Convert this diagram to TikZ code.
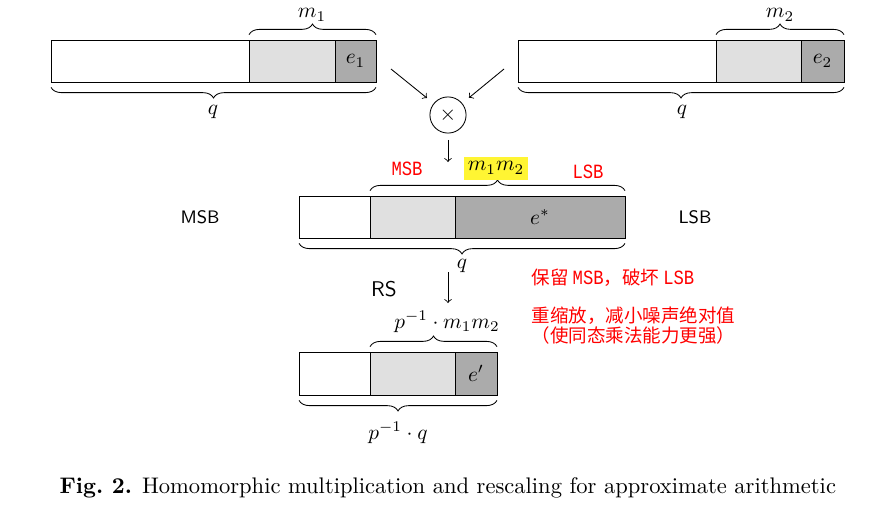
\documentclass[tikz,border=0pt]{standalone}
\usepackage{fontspec}
\newfontfamily\cjk{Noto Sans CJK SC}
\newfontfamily\redmono{Liberation Mono}[FakeStretch=0.85]
\usetikzlibrary{decorations.pathreplacing}
\tikzset{
  brc/.style={decorate,decoration={brace,amplitude=5pt,raise=2.5pt}},
  brcm/.style={decorate,decoration={brace,amplitude=5pt,raise=2.5pt,mirror}},
  lite/.style={fill=black!12},
  dark/.style={fill=black!33},
  note/.style={text=red,font=\cjk\fontsize{8.7}{10.5}\selectfont},
  side/.style={font=\sffamily\fontsize{8.5}{10}\selectfont},
}
\begin{document}
\begin{tikzpicture}
  [x=0.47pt,y=-0.47pt]
  \useasboundingbox (0,0) rectangle (888,514);

  % first ciphertext
  \draw (51,40) rectangle (249,82);
  \draw[lite] (249,40) rectangle (335,82);
  \draw[dark] (335,40) rectangle (376,82) node[midway] (e1) {$e_1$};
  \draw[brc] (249,40) -- (376,40);
  \node (m1) at (312,15) {$m_1$};
  \draw[brcm] (51,82) -- (376,82);
  \node (q1) at (213,112) {$q$};

  % second ciphertext
  \draw (518,40) rectangle (716,82);
  \draw[lite] (716,40) rectangle (801,82);
  \draw[dark] (801,40) rectangle (844,82) node[midway] (e2) {$e_2$};
  \draw[brc] (716,40) -- (844,40);
  \node (m2) at (780,15) {$m_2$};
  \draw[brcm] (518,82) -- (844,82);
  \node (q2) at (682,112) {$q$};

  % multiplication
  \node[circle,draw,minimum size=17pt,inner sep=0pt] (mul) at (448,115) {$\times$};
  \coordinate (in1) at (391,69);
  \coordinate (in2) at (504,69);
  \draw[->,shorten >=4pt] (in1) -- (mul);
  \draw[->,shorten >=4pt] (in2) -- (mul);
  \coordinate (out1) at (448,162);
  \draw[->,shorten <=3pt] (mul) -- (out1);

  % product
  \node[side] (msb) at (200,217) {MSB};
  \node[side] (lsb) at (695,217) {LSB};
  \draw (299,196) rectangle (370,238);
  \draw[lite] (370,196) rectangle (455,238);
  \draw[dark] (455,196) rectangle (625,238);
  \node (es) at (540,217) {$e^*$};
  \draw[brc] (370,196) -- (625,196);
  \node[fill=yellow!80,inner xsep=2pt,inner ysep=2.5pt] (mm) at (496,168) {$m_1m_2$};
  \node[note,font=\redmono\fontsize{9.5}{11}\selectfont] (msbr) at (407,169) {MSB};
  \node[note,font=\redmono\fontsize{9.5}{11}\selectfont] (lsbr) at (588,172) {LSB};
  \draw[brcm] (299,238) -- (625,238);
  \node (q3) at (462,266) {$q$};

  % rescaling
  \coordinate (rs1) at (448,272);
  \coordinate (rs2) at (448,303);
  \draw[->] (rs1) -- (rs2);
  \node[font=\sffamily] (rs) at (384,289) {RS};
  \node[note,anchor=west] (n1) at (524,278) {保留 {\redmono\fontsize{9.5}{11}\selectfont MSB}，破坏 {\redmono\fontsize{9.5}{11}\selectfont LSB}};
  \node[note,anchor=west] (n2) at (524,316) {重缩放，减小噪声绝对值};
  \node[note,anchor=west] (n3) at (524,335) {（使同态乘法能力更强）};

  % rescaled ciphertext
  \draw (299,352) rectangle (370,395);
  \draw[lite] (370,352) rectangle (455,395);
  \draw[dark] (455,352) rectangle (497,395) node[midway] (ep) {$e'$};
  \draw[brc] (370,352) -- (497,352);
  \node (pm) at (447,322) {$p^{-1}\cdot m_1m_2$};
  \draw[brcm] (299,395) -- (497,395);
  \node (pq) at (398,433) {$p^{-1}\cdot q$};

  \node[anchor=west,font=\fontsize{10.6}{12}\selectfont] (cap) at (52,488) {\textbf{Fig.~2.} Homomorphic multiplication and rescaling for approximate arithmetic};

\end{tikzpicture}
\end{document}
